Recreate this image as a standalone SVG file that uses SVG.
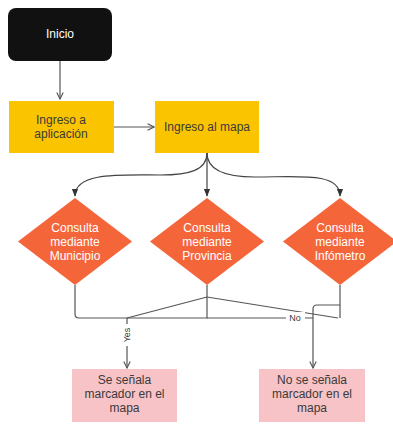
<svg xmlns="http://www.w3.org/2000/svg" width="393" height="428" viewBox="0 0 393 428">
<defs>
<marker id="open" viewBox="0 0 10 10" refX="9" refY="5" markerWidth="8" markerHeight="8" markerUnits="userSpaceOnUse" orient="auto">
<path d="M1,1 L9,5 L1,9" fill="none" stroke="#555" stroke-width="1.4"/>
</marker>
<marker id="solid" viewBox="0 0 10 10" refX="9" refY="5" markerWidth="8" markerHeight="8" markerUnits="userSpaceOnUse" orient="auto">
<path d="M0,1 L10,5 L0,9 Z" fill="#333"/>
</marker>
<style>
.t{font-family:"Liberation Sans",Arial,sans-serif;font-size:12px;text-anchor:middle}
.w{fill:#ffffff}
.d{fill:#3a3a3a}
.c{fill:none;stroke:#555;stroke-width:1.2}
.k{fill:none;stroke:#444;stroke-width:1.2}
.y{fill:#FBC400}
.o{fill:#F5653A}
.p{fill:#F7C3C6}
</style>
</defs>
<rect width="393" height="428" fill="#ffffff"/>
<g id="connectors">
<path class="c" d="M60,61 V99" marker-end="url(#open)"/>
<path class="c" d="M114,127 H154" marker-end="url(#open)"/>
<path class="k" d="M207,153 V196" marker-end="url(#solid)"/>
<path class="k" d="M207,153 C207,170 190,175 160,175 C120,175 75,172 75,196" marker-end="url(#solid)"/>
<path class="k" d="M207,153 C207,170 225,177 255,177 C300,177 340,172 340,196" marker-end="url(#solid)"/>
<path class="c" d="M75,285 V314 Q75,318 79,318 H207 V285"/>
<path class="c" d="M207,297 L127,318"/>
<path class="c" d="M207,297 L338,318"/>
<path class="c" d="M340,285 V318"/>
<path class="c" d="M207,318 H313"/>
<path class="c" d="M340,305 H317 Q313,305 313,309 V368" marker-end="url(#open)"/>
<path class="c" d="M127,318 V368" marker-end="url(#open)"/>
<rect x="118" y="324" width="18" height="22" fill="#ffffff"/>
<text class="t d" font-size="9" transform="translate(130,335) rotate(-90)" style="font-size:9px">Yes</text>
<rect x="286" y="312" width="19" height="12" fill="#ffffff"/>
<text class="t d" x="295" y="321" style="font-size:9px">No</text>
</g>
<g id="inicio">
<rect x="8" y="8" width="104" height="53" rx="8" fill="#111111"/>
<text class="t w" x="60" y="38">Inicio</text>
</g>
<g id="ingreso-aplicacion">
<rect class="y" x="9" y="101" width="105" height="52"/>
<text class="t d" x="61" y="124">Ingreso a</text>
<text class="t d" x="61" y="138">aplicación</text>
</g>
<g id="ingreso-mapa">
<rect class="y" x="155" y="101" width="104" height="52"/>
<text class="t d" x="207" y="131">Ingreso al mapa</text>
</g>
<g id="consulta-municipio">
<path class="o" d="M75,198 L132,241.5 L75,285 L18,241.5 Z"/>
<text class="t w" x="75" y="232">Consulta</text>
<text class="t w" x="75" y="246">mediante</text>
<text class="t w" x="75" y="260">Municipio</text>
</g>
<g id="consulta-provincia">
<path class="o" d="M207,198 L264,241.5 L207,285 L150,241.5 Z"/>
<text class="t w" x="207" y="232">Consulta</text>
<text class="t w" x="207" y="246">mediante</text>
<text class="t w" x="207" y="260">Provincia</text>
</g>
<g id="consulta-infometro">
<path class="o" d="M340,198 L397,241.5 L340,285 L283,241.5 Z"/>
<text class="t w" x="340" y="232">Consulta</text>
<text class="t w" x="340" y="246">mediante</text>
<text class="t w" x="340" y="260">Infómetro</text>
</g>
<g id="se-senala">
<rect class="p" x="72" y="369" width="105" height="53"/>
<text class="t d" x="124.5" y="384">Se señala</text>
<text class="t d" x="124.5" y="398">marcador en el</text>
<text class="t d" x="124.5" y="412">mapa</text>
</g>
<g id="no-se-senala">
<rect class="p" x="259" y="369" width="106" height="53"/>
<text class="t d" x="312" y="384">No se señala</text>
<text class="t d" x="312" y="398">marcador en el</text>
<text class="t d" x="312" y="412">mapa</text>
</g>
</svg>
